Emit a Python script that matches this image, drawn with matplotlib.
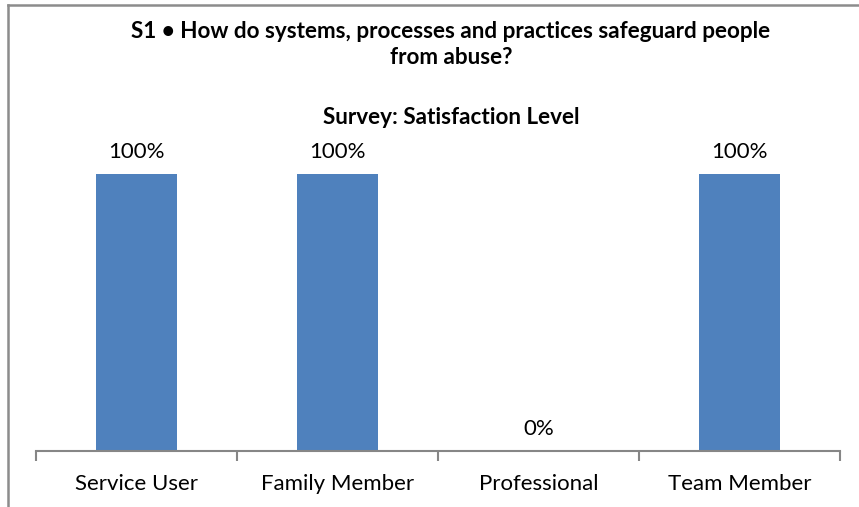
import matplotlib.pyplot as plt
from matplotlib.lines import Line2D

categories = ["Service User", "Family Member", "Professional", "Team Member"]
satisfaction = [1.0, 1.0, 0.0, 1.0]
value_labels = ["100%", "100%", "0%", "100%"]

title_text = "S1 \u2022 How do systems, processes and practices safeguard people\nfrom abuse?"
subtitle_text = "Survey: Satisfaction Level"

W, H = 859, 507
BLUE = "#4F81BD"
GREY = "#868686"

plt.rcParams["font.family"] = ["Lato", "DejaVu Sans"]

fig = plt.figure(figsize=(W / 100, H / 100), dpi=100)

# plot area in pixel terms: x 36..840, value 0 at y=451, 100% at y=174
left, right, base, top = 36, 840, 451, 174
ax = fig.add_axes([left / W, (H - base) / H, (right - left) / W, (base - top) / H])

x = range(len(categories))
bars = ax.bar(x, satisfaction, width=0.4, color=BLUE)
ax.bar_label(bars, labels=value_labels, padding=8.5, fontsize=16)

ax.set_xlim(-0.5, len(categories) - 0.5)
ax.set_ylim(0, 1)
for side in ("left", "right", "top"):
    ax.spines[side].set_visible(False)
ax.spines["bottom"].set_color(GREY)
ax.spines["bottom"].set_linewidth(1.5)
ax.set_yticks([])

ax.set_xticks(list(x))
ax.set_xticklabels(categories, fontsize=16)
ax.tick_params(axis="x", which="major", length=0, pad=16.5)
ax.set_xticks([i - 0.5 for i in range(len(categories) + 1)], minor=True)
ax.tick_params(axis="x", which="minor", length=7, width=1.5, color=GREY)

fig.text(451 / W, 1 - 44.5 / H, title_text, ha="center", va="center",
         fontsize=16.2, fontweight="bold", linespacing=1.25)
fig.text(451 / W, 1 - 118 / H, subtitle_text, ha="center", va="center",
         fontsize=16.2, fontweight="bold")

# chart frame (top and left edges)
fig.add_artist(Line2D([8 / W, 1], [1 - 5 / H, 1 - 5 / H], color="#8C8C8C", lw=1.8))
fig.add_artist(Line2D([8 / W, 8 / W], [0, 1 - 5 / H], color="#8C8C8C", lw=1.8))

fig.savefig("out.png", dpi=100)
